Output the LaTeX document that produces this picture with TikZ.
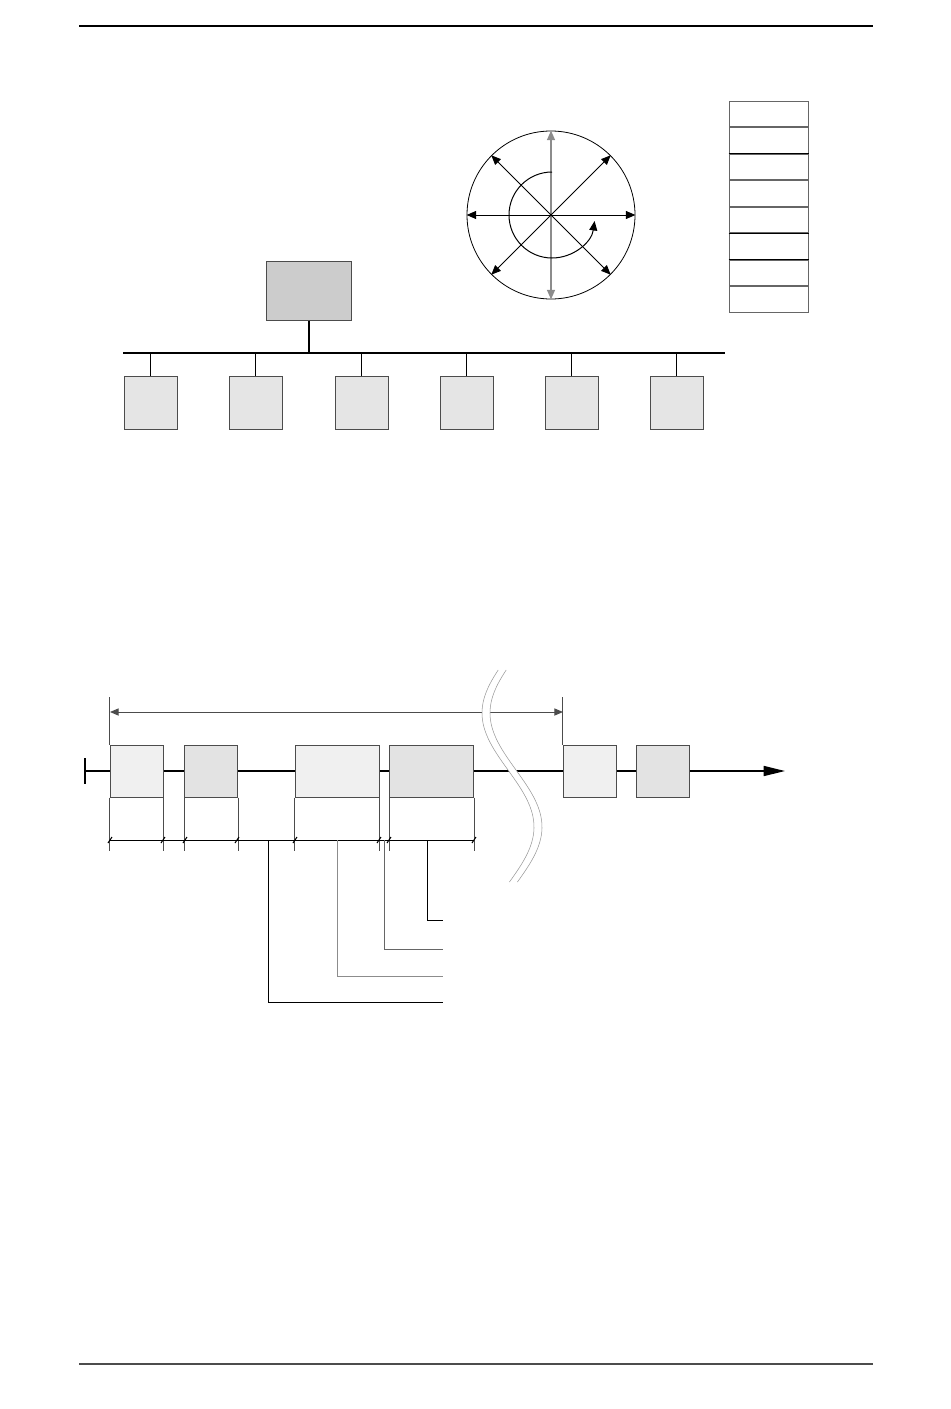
\documentclass[tikz,border=0pt]{standalone}
\usetikzlibrary{arrows.meta,positioning}

\tikzset{
  esclavo/.style={draw=black!70,fill=black!10,minimum width=39.75pt,minimum height=39.75pt,inner sep=0pt},
  maestro/.style={draw=black!70,fill=black!20,minimum width=63.75pt,minimum height=44.25pt,inner sep=0pt},
  celda/.style={draw=black!60,minimum width=59.25pt,minimum height=19.1pt,inner sep=0pt},
  trama/.style={draw=black!70,minimum height=39pt,inner sep=0pt},
  corta/.style={trama,minimum width=39.75pt},
  larga/.style={trama,minimum width=63pt},
}

\begin{document}
\begin{tikzpicture}[x=0.75pt,y=-0.75pt,line width=0.75pt,>={Triangle[length=2.5mm,width=2.1mm]}]
  \useasboundingbox (0,0) rectangle (950,1409);
  % cabecera y pie
  \draw[line width=1.4pt] (79,26) -- (873,26);
  \draw[black!70,line width=1.2pt] (79,1364) -- (873,1364);
  % red: maestro y esclavos
  \node[maestro] (m) at (308.5,290.5) {};
  \coordinate (busL) at (123,353);
  \coordinate (busR) at (725,353);
  \draw[line width=1.5pt] (busL) -- (busR);
  \draw[line width=1.5pt] (m.south) -- (m.south |- busL);
  \foreach \x [count=\i] in {150.5,255.5,361.5,466.5,571.5,676.5}{
    \node[esclavo] (s\i) at (\x,402.5) {};
    \draw[line width=1.3pt] (s\i.north) -- (s\i.north |- busL);
  }
  % rosa de direcciones
  \node[draw,circle,minimum size=126pt,inner sep=0pt,line width=0.6pt] (rosa) at (551,215) {};
  \draw[<->,black!45,line width=1pt] (rosa.north) -- (rosa.south);
  \draw[<->] (rosa.west) -- (rosa.east);
  \draw[<->] (rosa.north west) -- (rosa.south east);
  \draw[<->] (rosa.north east) -- (rosa.south west);
  \draw[->] (552,172) arc[start angle=90,end angle=352,radius=32.25pt];
  % pila de celdas
  \node[celda] (c1) at (768.5,114) {};
  \foreach \i [remember=\i as \j (initially 1)] in {2,...,8}
    \node[celda,below=0pt of c\j] (c\i) {};
  \foreach \i in {3,6,7}
    \draw (c\i.north west) -- (c\i.north east);
  % linea de tiempo
  \coordinate (t0) at (85,771);
  \coordinate (tf) at (785,771);
  \draw[line width=1.2pt,-{Triangle[length=16pt,width=7.5pt]}] (t0) -- (tf);
  \draw[line width=1pt] (t0) ++(0,-13) -- ++(0,26);
  \coordinate (a1) at (110,712);
  \coordinate (a2) at (563,712);
  \draw[<->,black!70,>={Triangle[length=2.3mm,width=1.9mm]}] (a1) -- (a2);
  % corte
  \fill[white] plot[domain=670:882,samples=60] ({508-26*cos(1.5789*(\x-713))},\x)
    -- plot[domain=882:670,samples=60] ({516-26*cos(1.5789*(\x-713))},\x) -- cycle;
  \draw[black!40,line width=0.4pt] plot[domain=670:882,samples=60] ({508-26*cos(1.5789*(\x-713))},\x);
  \draw[black!40,line width=0.4pt] plot[domain=670:882,samples=60] ({516-26*cos(1.5789*(\x-713))},\x);
  % tramas
  \node[corta,fill=black!6] (f1) at (136.5,771) {};
  \node[corta,fill=black!11] (f2) at (211,771) {};
  \node[larga,fill=black!6] (f3) at (337,771) {};
  \node[larga,fill=black!11] (f4) at (431.5,771) {};
  \node[corta,fill=black!6] (f5) at (589.5,771) {};
  \node[corta,fill=black!11] (f6) at (663,771) {};
  \draw[black!70] (f1.north west) -- ++(0,-48);
  \draw[black!70] (f5.north west) -- ++(0,-48);
  \foreach \i in {1,...,4}
    \draw[black!70] (f\i.south west) -- ++(0,53) (f\i.south east) -- ++(0,53);
  % cotas
  \coordinate (d0) at (110,840);
  \coordinate (d1) at (474,840);
  \draw (d0) -- (d1);
  \foreach \x in {110,163,185,237,295,379,389,474}
    \draw[line width=0.8pt] (\x-2,843) -- (\x+2,837);
  % lineas de referencia
  \foreach \x/\y/\c [count=\i] in {268/1002/black,337/976/black!45,384/949/black!60,427/920/black}{
    \coordinate (l\i) at (\x,840);
    \coordinate (e\i) at (443,\y);
    \draw[\c] (l\i) |- (e\i);
  }
\end{tikzpicture}
\end{document}
